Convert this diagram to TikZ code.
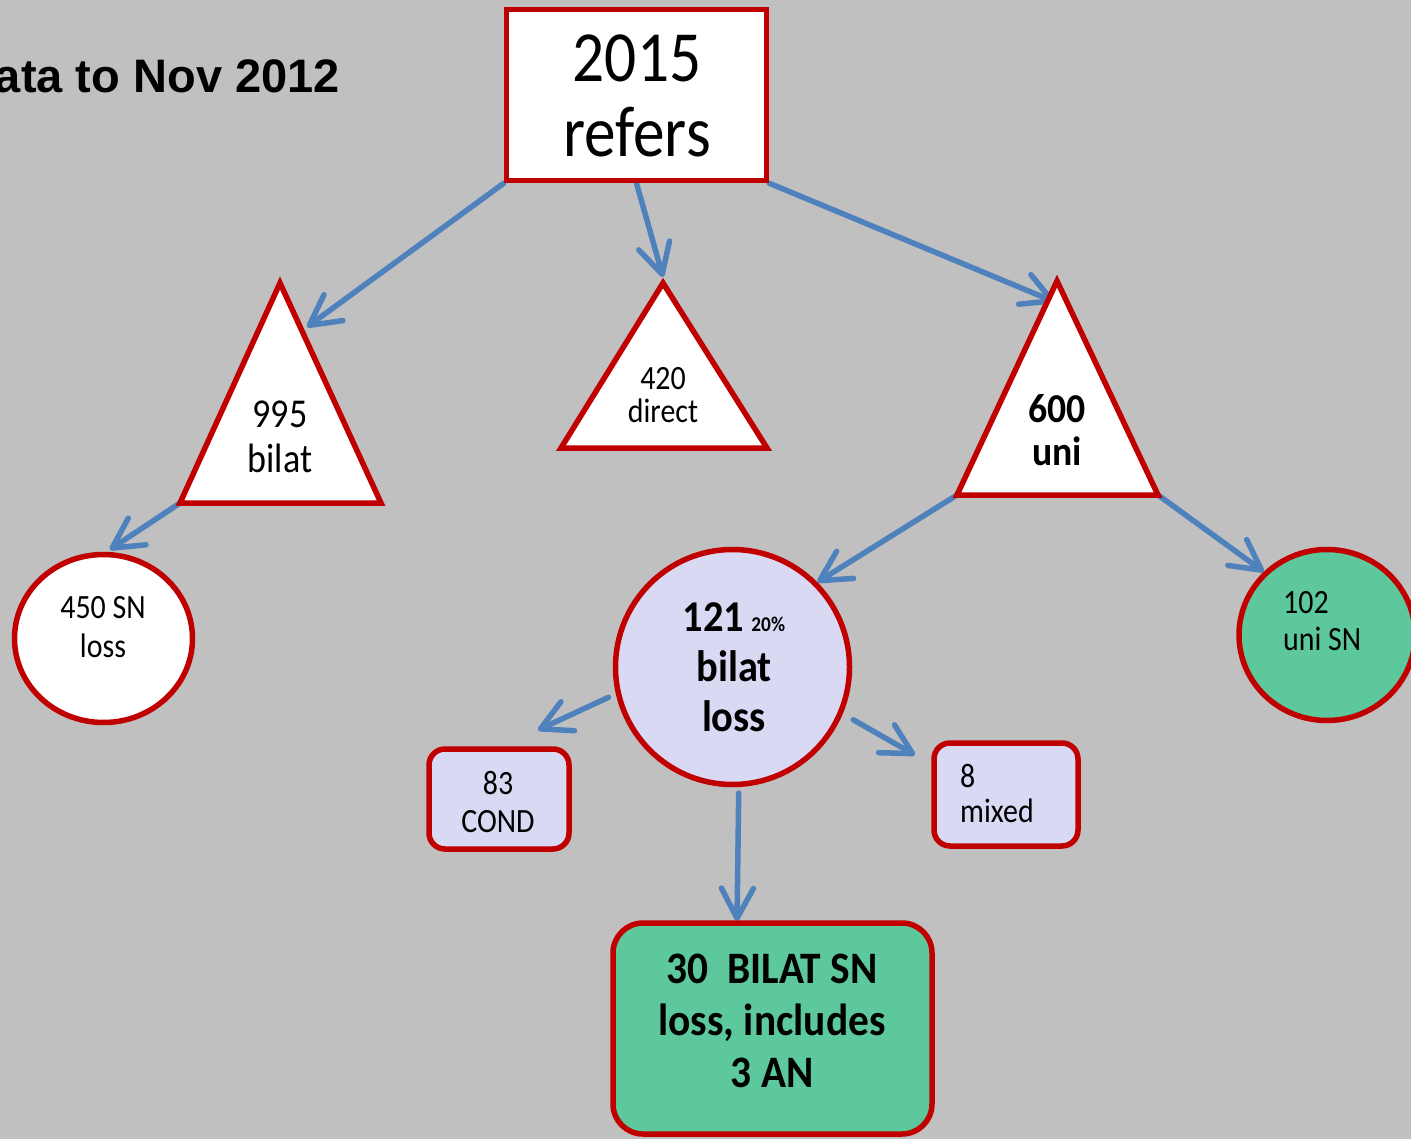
\documentclass[tikz,border=0pt]{standalone}
\usepackage{fontspec}
\setmainfont{Carlito}[FakeStretch=0.88]
\newfontfamily\boldface{Carlito}[FakeStretch=0.92]
\newfontfamily\titleface{Liberation Sans}
\usetikzlibrary{arrows.meta,shapes.geometric}
\definecolor{bggray}{RGB}{192,192,192}
\definecolor{boxred}{RGB}{192,0,0}
\definecolor{arrblue}{RGB}{79,129,189}
\definecolor{lav}{RGB}{217,217,244}
\definecolor{mint}{RGB}{92,200,155}
\pgfdeclarelayer{back}
\pgfdeclarelayer{mid}
\pgfsetlayers{back,mid,main}

\begin{document}
\begin{tikzpicture}[x=1pt, y=-1pt,
    refbox/.style={draw=boxred, line width=5.5pt, fill=white, inner sep=0pt,
      minimum width=260pt, minimum height=171pt},
    tri/.style={draw=boxred, line width=5.5pt, fill=white, line join=miter},
    ring/.style={ellipse, draw=boxred, line width=5.5pt, inner sep=0pt},
    tag/.style={draw=boxred, line width=5.5pt, fill=lav, inner sep=0pt, rounded corners=16pt},
    txt/.style={anchor=base, align=center, inner sep=0pt},
    arr/.style={draw=arrblue, line width=5.5pt, line cap=round,
      -{Straight Barb[length=30pt, width=32pt, round]}}]
      % page
      \begin{pgfonlayer}{back}
        \fill[bggray] (0,0) rectangle (1411,1139);
      \end{pgfonlayer}
      \useasboundingbox (0,0) rectangle (1411,1139);
      \node[txt, anchor=base east, font=\titleface\bfseries\fontsize{47}{50}\selectfont] (title) at (340,93) {ata to Nov 2012};
      % top box
      \node[refbox] (refers) at (636.5,95) {};
      \node[txt, font=\fontsize{72}{75}\selectfont] (refers-txt) at (637,157) {2015\\refers};
      % triangles
      \coordinate (bilat-top) at (280,283);
      \coordinate (bilat-l) at (180,503);
      \coordinate (bilat-r) at (381,503);
      \draw[tri] (bilat-top) -- (bilat-l) -- (bilat-r) -- cycle;
      \node[txt, font=\fontsize{41}{45}\selectfont] (bilat-txt) at (280,472) {995\\bilat};
      \coordinate (direct-top) at (663,283);
      \coordinate (direct-l) at (561,448);
      \coordinate (direct-r) at (767,448);
      \draw[tri] (direct-top) -- (direct-l) -- (direct-r) -- cycle;
      \node[txt, font=\fontsize{34}{33}\selectfont] (direct-txt) at (663,423) {420\\direct};
      \coordinate (uni-top) at (1057,281);
      \coordinate (uni-l) at (957,495);
      \coordinate (uni-r) at (1158,495);
      \draw[tri] (uni-top) -- (uni-l) -- (uni-r) -- cycle;
      \node[txt, font=\boldface\bfseries\fontsize{41}{43}\selectfont] (uni-txt) at (1057,465) {600\\uni};
      % circles
      \node[ring, fill=white, minimum width=178pt, minimum height=168pt] (sn) at (103.5,638.5) {};
      \node[txt, font=\fontsize{34}{39}\selectfont] (sn-txt) at (103,657) {450 SN\\loss};
      \node[ring, fill=lav, minimum width=234pt, minimum height=235pt] (bl) at (732.5,667) {};
      \node[txt, font=\boldface\bfseries\fontsize{44}{50}\selectfont] (bl-txt) at (734,731)
        {121\hspace{7pt}{\fontsize{21}{21}\selectfont 20\%}\\bilat\\loss};
      \node[ring, fill=mint, minimum width=176pt, minimum height=171pt] (u102) at (1327,635) {};
      \node[txt, anchor=base west, align=left, font=\fontsize{34}{37}\selectfont] (u102-txt) at (1283,650) {102\\uni SN};
      % small boxes
      \node[tag, minimum width=140pt, minimum height=100pt] (cond) at (499,799) {};
      \node[txt, font=\fontsize{34}{38}\selectfont] (cond-txt) at (498,832) {83\\COND};
      \node[tag, minimum width=144pt, minimum height=103pt] (mixed) at (1006,794.5) {};
      \node[txt, anchor=base west, align=left, font=\fontsize{34}{35}\selectfont] (mixed-txt) at (960,822) {8\\mixed};
      % bottom box
      \node[tag, fill=mint, rounded corners=30pt, minimum width=319pt, minimum height=211pt] (an) at (772.5,1028.5) {};
      \node[txt, font=\boldface\bfseries\fontsize{45}{52}\selectfont] (an-txt) at (772,1087) {30~~BILAT SN\\loss, includes\\3 AN};
      % arrow ends
      \coordinate (hit-bilat) at (307,327);
      \coordinate (hit-direct) at (663,277);
      \coordinate (hit-uni) at (1055,302);
      \coordinate (hit-cond) at (538,730);
      \coordinate (hit-mixed) at (915,755);
      \coordinate (hit-an) at (737,921);
      % arrows
      \begin{pgfonlayer}{mid}
        \draw[arr] (refers.south west) -- (hit-bilat);
        \draw[arr] (refers.south) -- (hit-direct);
        \draw[arr] (refers.south east) -- (hit-uni);
        \draw[arr, shorten >=4pt] (bilat-l) -- (sn.88);
        \draw[arr] (uni-l) -- (bl.45);
        \draw[arr] (uni-r) -- (u102.135);
        \draw[arr, shorten <=8pt] (bl.193) -- (hit-cond);
        \draw[arr, shorten <=12pt] (bl.337) -- (hit-mixed);
        \draw[arr, shorten <=6pt] (bl.273) -- (hit-an);
      \end{pgfonlayer}
    \end{tikzpicture}
\end{document}
